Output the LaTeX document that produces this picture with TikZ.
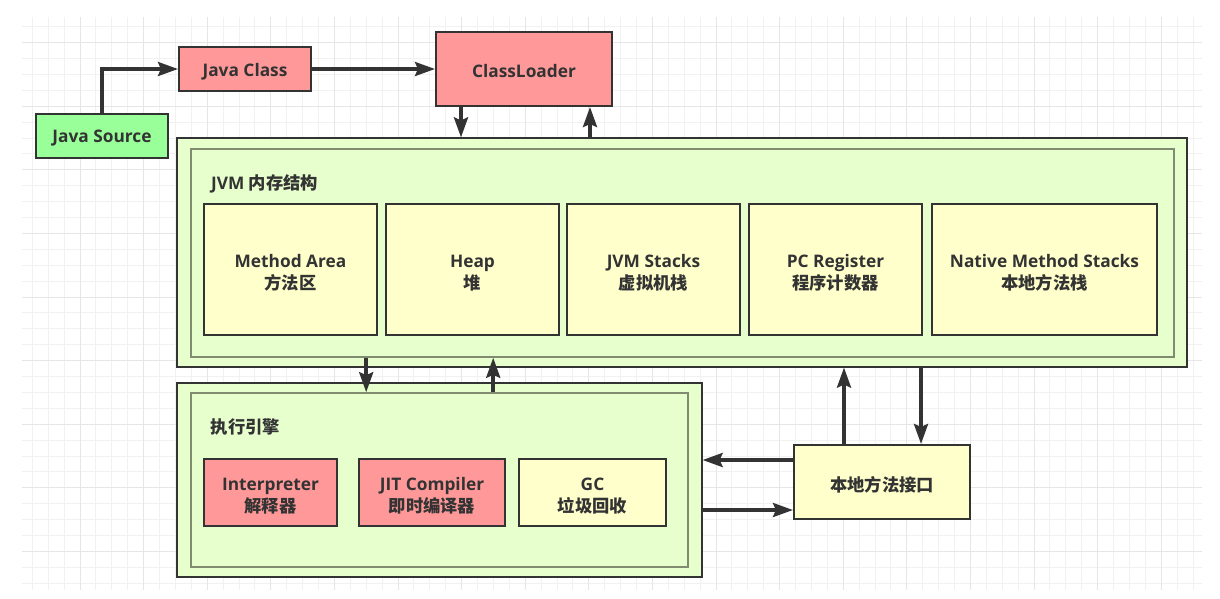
\documentclass[tikz,border=0pt]{standalone}
\usepackage{fontspec}
\setmainfont{Open Sans}
\newfontfamily\cjk{Noto Sans CJK SC}
\usetikzlibrary{arrows.meta,calc}

\definecolor{ink}{HTML}{333333}
\definecolor{pinkfill}{HTML}{FF9999}
\definecolor{greenfill}{HTML}{99FF99}
\definecolor{paleyellow}{HTML}{FFFFCC}
\definecolor{panelfill}{HTML}{E6FFCC}
\definecolor{panelline}{HTML}{7F8C72}
\definecolor{gridminor}{HTML}{F1F1F1}
\definecolor{gridmajor}{HTML}{E6E6E6}

% box text: one or two centred lines, set a little lower than the box centre
\newcommand\boxtext[1]{\raisebox{-2.5pt}[\height][\depth]{#1}}
\newcommand\twolines[2]{\raisebox{-4.5pt}[\height][\depth]{\begin{tabular}{@{}c@{}}#1\\#2\end{tabular}}}

\tikzset{
  txt/.style={font=\fontsize{17.3}{21.5}\selectfont\bfseries, text=ink},
  boxnode/.style={txt, draw=ink, line width=2pt, inner sep=0pt},
  pinkbox/.style={boxnode, fill=pinkfill},
  greenbox/.style={boxnode, fill=greenfill},
  yellowbox/.style={boxnode, fill=paleyellow},
  outerpanel/.style={draw=ink, line width=1.2pt, fill=panelfill, inner sep=0pt},
  innerpanel/.style={draw=panelline, line width=1.6pt, fill=panelfill, inner sep=0pt},
  flow/.style={draw=ink, line width=3.5pt,
    -{Stealth[length=20pt,width=14pt,inset=3pt]}},
  panellabel/.style={txt, anchor=west, inner sep=0pt},
}

\begin{document}
\begin{tikzpicture}[x=1pt,y=-1pt]
\useasboundingbox (0,0) rectangle (1220,598);

% background grid
\begin{scope}
  \clip (22,17) rectangle (1202,590);
  \foreach \i in {0,...,74}
    \draw[gridminor, line width=1pt] ({32.3+15.9*\i},17) -- ({32.3+15.9*\i},590);
  \foreach \i in {0,...,36}
    \draw[gridminor, line width=1pt] (22,{26.7+15.9*\i}) -- (1202,{26.7+15.9*\i});
  \foreach \i in {0,...,18}
    \draw[gridmajor, line width=1pt] ({80+63.6*\i},17) -- ({80+63.6*\i},590);
  \foreach \i in {0,...,8}
    \draw[gridmajor, line width=1pt] (22,{42.6+63.6*\i}) -- (1202,{42.6+63.6*\i});
\end{scope}

% source and loader
\node[greenbox, minimum width=132pt, minimum height=44pt] (src) at (102,136) {\boxtext{Java Source}};
\node[pinkbox, minimum width=132pt, minimum height=44pt] (cls) at (245,69) {\boxtext{Java Class}};
\node[pinkbox, minimum width=176pt, minimum height=74pt] (loader) at (524,69) {\boxtext{ClassLoader}};

% JVM memory structure panel
\node[outerpanel, minimum width=1010pt, minimum height=229pt] (jvmout) at (682,252.5) {};
\node[innerpanel, minimum width=983pt, minimum height=208pt] (jvmin) at (682.5,253) {};
\node[panellabel] (jvmlabel) at (211,183.5) {JVM {\cjk 内存结构}};

\node[yellowbox, minimum width=173pt, minimum height=131pt] (method) at (290.5,269.5)
  {\twolines{Method Area}{\cjk 方法区}};
\node[yellowbox, minimum width=173pt, minimum height=131pt] (heap) at (472.5,269.5)
  {\twolines{Heap}{\cjk 堆}};
\node[yellowbox, minimum width=173pt, minimum height=131pt] (stacks) at (653.5,269.5)
  {\twolines{JVM Stacks}{\cjk 虚拟机栈}};
\node[yellowbox, minimum width=173pt, minimum height=131pt] (pcreg) at (835.5,269.5)
  {\twolines{PC Register}{\cjk 程序计数器}};
\node[yellowbox, minimum width=225pt, minimum height=131pt] (native) at (1044.5,269.5)
  {\twolines{Native Method Stacks}{\cjk 本地方法栈}};

% execution engine panel
\node[outerpanel, minimum width=525pt, minimum height=194pt] (exout) at (439.5,480) {};
\node[innerpanel, minimum width=497pt, minimum height=174pt] (exin) at (439.5,480) {};
\node[panellabel] (exlabel) at (210.5,426.5) {\cjk 执行引擎};

\node[pinkbox, minimum width=133pt, minimum height=67pt] (interp) at (270.5,492.5)
  {\twolines{Interpreter}{\cjk 解释器}};
\node[pinkbox, minimum width=146pt, minimum height=67pt] (jit) at (432,492.5)
  {\twolines{JIT Compiler}{\cjk 即时编译器}};
\node[yellowbox, minimum width=147pt, minimum height=67pt] (gc) at (592.5,492.5)
  {\twolines{GC}{\cjk 垃圾回收}};

% native method interface
\node[yellowbox, minimum width=176pt, minimum height=74pt] (jni) at (882,482) {\boxtext{\cjk 本地方法接口}};

% connectors
\draw[flow] (src.north) |- (cls.west);
\draw[flow] (cls.east) -- (loader.west);
\draw[flow] ([xshift=26pt]loader.south west) -- ([xshift=26pt]loader.south west |- jvmout.north);
\draw[flow] ([xshift=-23pt]loader.south east |- jvmout.north) -- ([xshift=-23pt]loader.south east);

\draw[flow] ([xshift=176pt]jvmin.south west) -- ([xshift=176pt]jvmin.south west |- exin.north);
\draw[flow] ([xshift=303pt]jvmin.south west |- exin.north) -- ([xshift=303pt]jvmin.south west);

\draw[flow] ([xshift=51pt]jni.north west) -- ([xshift=51pt]jni.north west |- jvmout.south);
\draw[flow] ([xshift=-50pt]jni.north east |- jvmout.south) -- ([xshift=-50pt]jni.north east);

\draw[flow] ([yshift=-16pt]jni.north west) -- ([yshift=-16pt]jni.north west -| exout.east);
\draw[flow] ([yshift=10pt]jni.south west -| exout.east) -- ([yshift=10pt]jni.south west);
\end{tikzpicture}
\end{document}
